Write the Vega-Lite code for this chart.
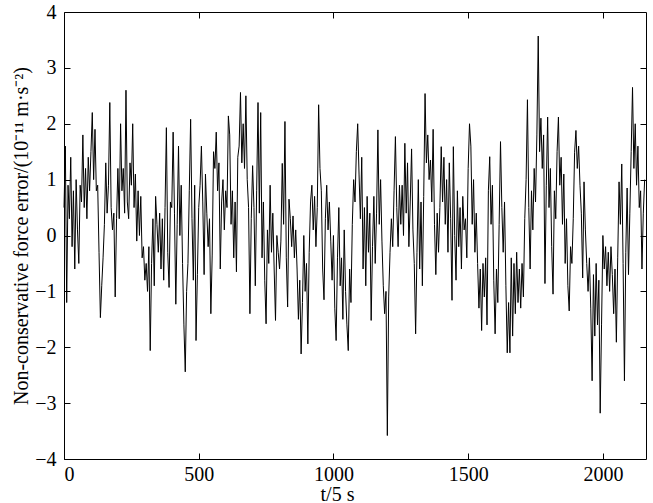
{
"$schema": "https://vega.github.io/schema/vega-lite/v6.json",
"width": 582, "height": 447,
"autosize": {"type": "none"},
"padding": {"left": 64, "top": 12, "right": 7, "bottom": 44},
"background": "white",
"config": {
  "view": {"stroke": "#000", "strokeWidth": 1},
  "font": "Liberation Serif",
  "axis": {"domain": false, "ticks": true, "tickColor": "#000000", "tickWidth": 1, "tickSize": -6, "grid": false,
           "labelFont": "Liberation Serif", "labelFontSize": 20, "labelColor": "#000",
           "titleFont": "Liberation Serif", "titleFontSize": 20, "titleFontWeight": "normal", "titleColor": "#000"}
},
"data": {"values": [
{"t":0,"v":0.5},{"t":5,"v":1.6},{"t":10,"v":-1.2},{"t":15,"v":0.9},{"t":20,"v":0.3},{"t":25,"v":1.4},{"t":30,"v":-0.2},{"t":35,"v":0.8},{"t":40,"v":-0.6},{"t":45,"v":1.0},
{"t":50,"v":0.1},{"t":55,"v":-0.5},{"t":60,"v":0.9},{"t":65,"v":0.6},{"t":70,"v":1.8},{"t":75,"v":0.5},{"t":80,"v":1.2},{"t":85,"v":0.3},{"t":90,"v":1.4},{"t":95,"v":0.8},
{"t":100,"v":1.5},{"t":105,"v":2.2},{"t":110,"v":1.0},{"t":115,"v":1.9},{"t":120,"v":0.8},{"t":125,"v":0.9},{"t":130,"v":-0.3},{"t":135,"v":-1.47},{"t":140,"v":-0.9},{"t":145,"v":-0.4},
{"t":150,"v":0.2},{"t":155,"v":1.3},{"t":160,"v":0.4},{"t":165,"v":0.9},{"t":170,"v":2.38},{"t":175,"v":0.5},{"t":180,"v":0.1},{"t":185,"v":0.4},{"t":190,"v":-1.1},{"t":195,"v":0.3},
{"t":200,"v":1.2},{"t":205,"v":0.3},{"t":210,"v":2.0},{"t":215,"v":0.8},{"t":220,"v":1.2},{"t":225,"v":0.4},{"t":230,"v":2.6},{"t":235,"v":0.6},{"t":240,"v":0.3},{"t":245,"v":1.3},
{"t":250,"v":0.9},{"t":255,"v":2.0},{"t":260,"v":0.5},{"t":265,"v":1.1},{"t":270,"v":-0.1},{"t":275,"v":0.8},{"t":280,"v":0.0},{"t":285,"v":0.7},{"t":290,"v":-0.4},{"t":295,"v":-0.2},
{"t":300,"v":-0.8},{"t":305,"v":-0.5},{"t":310,"v":-1.0},{"t":315,"v":-0.2},{"t":320,"v":-2.06},{"t":325,"v":-0.5},{"t":330,"v":0.3},{"t":335,"v":-0.9},{"t":340,"v":0.7},{"t":345,"v":0.2},
{"t":350,"v":-0.3},{"t":355,"v":0.4},{"t":360,"v":-0.6},{"t":365,"v":0.3},{"t":370,"v":-0.8},{"t":375,"v":0.5},{"t":380,"v":1.93},{"t":385,"v":-0.3},{"t":390,"v":-0.93},{"t":395,"v":0.6},
{"t":400,"v":0.5},{"t":405,"v":1.85},{"t":410,"v":0.4},{"t":415,"v":-1.23},{"t":420,"v":0.2},{"t":425,"v":1.6},{"t":430,"v":0.0},{"t":435,"v":0.9},{"t":440,"v":-0.5},{"t":445,"v":-1.6},
{"t":450,"v":-2.44},{"t":455,"v":-1.0},{"t":460,"v":-0.5},{"t":465,"v":0.8},{"t":470,"v":2.08},{"t":475,"v":0.3},{"t":480,"v":-0.8},{"t":485,"v":0.9},{"t":490,"v":-1.88},{"t":495,"v":-0.7},
{"t":500,"v":0.5},{"t":505,"v":0.9},{"t":510,"v":1.6},{"t":515,"v":0.6},{"t":520,"v":-0.7},{"t":525,"v":1.1},{"t":530,"v":0.4},{"t":535,"v":-0.2},{"t":540,"v":0.3},{"t":545,"v":-1.4},
{"t":550,"v":-0.35},{"t":555,"v":1.5},{"t":560,"v":1.2},{"t":565,"v":1.85},{"t":570,"v":0.8},{"t":575,"v":1.3},{"t":580,"v":-0.6},{"t":585,"v":0.6},{"t":590,"v":1.0},{"t":595,"v":0.1},
{"t":600,"v":0.8},{"t":605,"v":0.5},{"t":610,"v":2.14},{"t":615,"v":1.8},{"t":620,"v":0.2},{"t":625,"v":0.8},{"t":630,"v":-0.4},{"t":635,"v":0.6},{"t":640,"v":-0.65},{"t":645,"v":1.4},
{"t":650,"v":1.6},{"t":655,"v":2.56},{"t":660,"v":1.3},{"t":665,"v":2.0},{"t":670,"v":1.2},{"t":675,"v":2.5},{"t":680,"v":1.0},{"t":685,"v":0.5},{"t":690,"v":-1.4},{"t":695,"v":0.3},
{"t":700,"v":1.25},{"t":705,"v":0.5},{"t":710,"v":-0.9},{"t":715,"v":0.8},{"t":720,"v":2.38},{"t":725,"v":0.4},{"t":730,"v":2.2},{"t":735,"v":-0.4},{"t":740,"v":0.6},{"t":745,"v":-0.8},
{"t":750,"v":-1.58},{"t":755,"v":0.1},{"t":760,"v":-0.5},{"t":765,"v":0.9},{"t":770,"v":-0.3},{"t":775,"v":0.4},{"t":780,"v":-0.6},{"t":785,"v":-1.52},{"t":790,"v":0.0},{"t":795,"v":-0.3},
{"t":800,"v":-0.6},{"t":805,"v":-0.1},{"t":810,"v":1.29},{"t":815,"v":0.2},{"t":820,"v":2.04},{"t":825,"v":-0.4},{"t":830,"v":-1.28},{"t":835,"v":0.65},{"t":840,"v":0.3},{"t":845,"v":-0.2},
{"t":850,"v":0.35},{"t":855,"v":-0.4},{"t":860,"v":0.1},{"t":865,"v":-0.6},{"t":870,"v":-1.5},{"t":875,"v":-0.8},{"t":880,"v":-2.12},{"t":885,"v":-1.2},{"t":890,"v":0.0},{"t":895,"v":-1.0},
{"t":900,"v":-0.5},{"t":905,"v":-1.94},{"t":910,"v":-0.3},{"t":915,"v":0.6},{"t":920,"v":0.9},{"t":925,"v":0.1},{"t":930,"v":0.7},{"t":935,"v":-0.2},{"t":940,"v":0.5},{"t":945,"v":2.34},
{"t":950,"v":1.2},{"t":955,"v":0.8},{"t":960,"v":-0.6},{"t":965,"v":-1.15},{"t":970,"v":0.3},{"t":975,"v":0.9},{"t":980,"v":0.1},{"t":985,"v":0.6},{"t":990,"v":-0.1},{"t":995,"v":-0.8},
{"t":1000,"v":0.0},{"t":1005,"v":-1.3},{"t":1010,"v":-1.88},{"t":1015,"v":-0.4},{"t":1020,"v":0.5},{"t":1025,"v":-0.9},{"t":1030,"v":-0.4},{"t":1035,"v":-1.5},{"t":1040,"v":0.1},{"t":1045,"v":-1.0},
{"t":1050,"v":-1.6},{"t":1055,"v":-2.06},{"t":1060,"v":-0.6},{"t":1065,"v":-1.2},{"t":1070,"v":0.2},{"t":1075,"v":1.0},{"t":1080,"v":0.6},{"t":1085,"v":1.5},{"t":1090,"v":2.0},{"t":1095,"v":1.1},
{"t":1100,"v":0.3},{"t":1105,"v":1.4},{"t":1110,"v":-0.6},{"t":1115,"v":0.5},{"t":1120,"v":-0.9},{"t":1125,"v":0.7},{"t":1130,"v":-0.3},{"t":1135,"v":0.4},{"t":1140,"v":-1.52},{"t":1145,"v":-0.2},
{"t":1150,"v":0.7},{"t":1155,"v":-0.5},{"t":1160,"v":0.4},{"t":1165,"v":1.89},{"t":1170,"v":0.2},{"t":1175,"v":1.0},{"t":1180,"v":-0.1},{"t":1185,"v":-0.9},{"t":1190,"v":-1.4},{"t":1195,"v":-1.0},
{"t":1200,"v":-3.58},{"t":1205,"v":-1.1},{"t":1210,"v":-0.3},{"t":1215,"v":0.3},{"t":1220,"v":-0.2},{"t":1225,"v":0.8},{"t":1230,"v":1.77},{"t":1235,"v":0.5},{"t":1240,"v":-0.2},{"t":1245,"v":0.9},
{"t":1250,"v":0.2},{"t":1255,"v":0.9},{"t":1260,"v":0.0},{"t":1265,"v":1.65},{"t":1270,"v":0.4},{"t":1275,"v":1.3},{"t":1280,"v":-0.2},{"t":1285,"v":0.6},{"t":1290,"v":1.55},{"t":1295,"v":0.1},
{"t":1300,"v":-0.5},{"t":1305,"v":-1.76},{"t":1310,"v":-0.3},{"t":1315,"v":1.0},{"t":1320,"v":-0.6},{"t":1325,"v":0.6},{"t":1330,"v":-0.9},{"t":1335,"v":0.7},{"t":1340,"v":2.54},{"t":1345,"v":1.3},
{"t":1350,"v":1.8},{"t":1355,"v":1.0},{"t":1360,"v":1.35},{"t":1365,"v":0.6},{"t":1370,"v":1.9},{"t":1375,"v":0.2},{"t":1380,"v":-0.7},{"t":1385,"v":0.4},{"t":1390,"v":-0.3},{"t":1395,"v":0.5},
{"t":1400,"v":1.59},{"t":1405,"v":0.6},{"t":1410,"v":1.4},{"t":1415,"v":0.2},{"t":1420,"v":1.0},{"t":1425,"v":-0.3},{"t":1430,"v":1.3},{"t":1435,"v":0.3},{"t":1440,"v":-1.16},{"t":1445,"v":1.59},
{"t":1450,"v":0.0},{"t":1455,"v":-0.8},{"t":1460,"v":0.8},{"t":1465,"v":-0.2},{"t":1470,"v":0.5},{"t":1475,"v":-0.6},{"t":1480,"v":0.7},{"t":1485,"v":0.1},{"t":1490,"v":0.3},{"t":1495,"v":-0.4},
{"t":1500,"v":1.2},{"t":1505,"v":2.0},{"t":1510,"v":1.6},{"t":1515,"v":0.2},{"t":1520,"v":1.0},{"t":1525,"v":-0.3},{"t":1530,"v":0.4},{"t":1535,"v":-0.5},{"t":1540,"v":-1.3},{"t":1545,"v":-0.6},
{"t":1550,"v":-1.7},{"t":1555,"v":-0.5},{"t":1560,"v":-1.1},{"t":1565,"v":-0.4},{"t":1570,"v":-1.6},{"t":1575,"v":0.8},{"t":1580,"v":1.41},{"t":1585,"v":0.2},{"t":1590,"v":0.9},{"t":1595,"v":-0.8},
{"t":1600,"v":-1.76},{"t":1605,"v":-0.6},{"t":1610,"v":-1.2},{"t":1615,"v":0.2},{"t":1620,"v":1.68},{"t":1625,"v":0.5},{"t":1630,"v":-0.3},{"t":1635,"v":0.6},{"t":1640,"v":-0.9},{"t":1645,"v":-2.1},
{"t":1650,"v":-1.2},{"t":1655,"v":-2.1},{"t":1660,"v":-0.4},{"t":1665,"v":-1.8},{"t":1670,"v":-0.5},{"t":1675,"v":-1.4},{"t":1680,"v":-0.3},{"t":1685,"v":-1.2},{"t":1690,"v":-0.6},{"t":1695,"v":-1.3},
{"t":1700,"v":-0.5},{"t":1705,"v":-1.1},{"t":1710,"v":0.3},{"t":1715,"v":1.0},{"t":1720,"v":2.43},{"t":1725,"v":0.5},{"t":1730,"v":-0.6},{"t":1735,"v":0.8},{"t":1740,"v":0.1},{"t":1745,"v":1.2},
{"t":1750,"v":0.6},{"t":1755,"v":1.8},{"t":1760,"v":3.57},{"t":1765,"v":1.5},{"t":1770,"v":2.1},{"t":1775,"v":1.2},{"t":1780,"v":1.8},{"t":1785,"v":-0.86},{"t":1790,"v":0.9},{"t":1795,"v":2.12},
{"t":1800,"v":0.5},{"t":1805,"v":1.2},{"t":1810,"v":-0.2},{"t":1815,"v":-1.05},{"t":1820,"v":0.8},{"t":1825,"v":0.3},{"t":1830,"v":1.5},{"t":1835,"v":2.12},{"t":1840,"v":0.9},{"t":1845,"v":1.4},
{"t":1850,"v":0.2},{"t":1855,"v":1.1},{"t":1860,"v":-0.5},{"t":1865,"v":0.3},{"t":1870,"v":-0.9},{"t":1875,"v":-1.35},{"t":1880,"v":-0.2},{"t":1885,"v":-0.5},{"t":1890,"v":0.3},{"t":1895,"v":1.49},
{"t":1900,"v":1.88},{"t":1905,"v":1.2},{"t":1910,"v":1.6},{"t":1915,"v":0.9},{"t":1920,"v":0.4},{"t":1925,"v":-0.76},{"t":1930,"v":0.96},{"t":1935,"v":0.1},{"t":1940,"v":-0.5},{"t":1945,"v":-1.0},
{"t":1950,"v":-0.4},{"t":1955,"v":-1.3},{"t":1960,"v":-2.6},{"t":1965,"v":-0.7},{"t":1970,"v":-1.8},{"t":1975,"v":-0.5},{"t":1980,"v":-1.6},{"t":1985,"v":-0.8},{"t":1990,"v":-3.18},{"t":1995,"v":-1.6},
{"t":2000,"v":0.0},{"t":2005,"v":-0.6},{"t":2010,"v":-0.2},{"t":2015,"v":-0.9},{"t":2020,"v":-0.3},{"t":2025,"v":-1.0},{"t":2030,"v":-0.2},{"t":2035,"v":-0.7},{"t":2040,"v":-1.4},{"t":2045,"v":-0.6},
{"t":2050,"v":-1.91},{"t":2055,"v":-0.4},{"t":2060,"v":0.96},{"t":2065,"v":0.2},{"t":2070,"v":1.28},{"t":2075,"v":-0.5},{"t":2080,"v":-2.6},{"t":2085,"v":-0.3},{"t":2090,"v":0.85},{"t":2095,"v":-0.7},
{"t":2100,"v":0.4},{"t":2105,"v":1.5},{"t":2110,"v":2.65},{"t":2115,"v":1.2},{"t":2120,"v":2.0},{"t":2125,"v":0.9},{"t":2130,"v":1.6},{"t":2135,"v":0.5},{"t":2140,"v":0.8},{"t":2145,"v":-0.6},
{"t":2150,"v":0.4},{"t":2155,"v":1.0}
]},
"layer": [
  {
    "mark": {"type": "line", "stroke": "#000000", "strokeWidth": 1},
    "encoding": {
      "x": {"field": "t", "type": "quantitative", "scale": {"domain": [0, 2160], "nice": false, "zero": false},
            "axis": {"orient": "bottom", "values": [0, 500, 1000, 1500, 2000], "format": "d", "tickSize": -6, "labelPadding": 11, "title": "t/5 s", "titleX": 273, "titleY": 41, "titleBaseline": "alphabetic", "titleAnchor": "middle", "titleAlign": "center"}},
      "y": {"field": "v", "type": "quantitative", "scale": {"domain": [-4, 4], "nice": false, "zero": false},
            "axis": {"orient": "left", "values": [-4, -3, -2, -1, 0, 1, 2, 3, 4], "format": "d", "tickSize": -6, "labelPadding": 14, "title": "Non-conservative force error/(10\u207b\u00b9\u00b9 m\u00b7s\u207b\u00b2)", "titlePadding": 3}}
    }
  },
  {
    "mark": {"type": "line", "opacity": 0},
    "encoding": {
      "x": {"field": "t", "type": "quantitative", "axis": {"orient": "top", "tickSize": -6, "values": [500, 1000, 1500, 2000], "labels": false, "title": null}},
      "y": {"field": "v", "type": "quantitative", "axis": {"orient": "right", "offset": -6, "tickSize": 6, "values": [-3, -2, -1, 0, 1, 2, 3], "labels": false, "title": null}}
    }
  }
],
"resolve": {"axis": {"x": "independent", "y": "independent"}}
}
